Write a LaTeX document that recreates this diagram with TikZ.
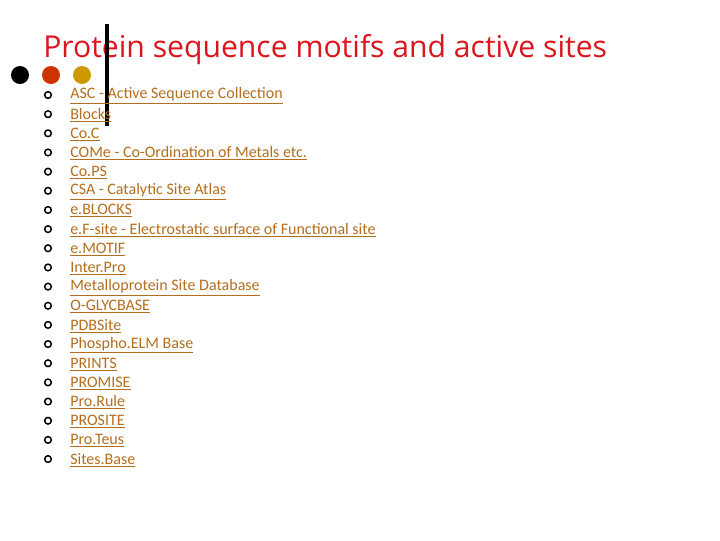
\documentclass[tikz,border=0pt]{standalone}
\usepackage{fontspec}
\setmainfont{Carlito}
\newfontfamily\titlefont{Open Sans}
\definecolor{titlered}{RGB}{220,20,30}
\definecolor{dotred}{RGB}{204,51,0}
\definecolor{dotgold}{RGB}{204,153,0}
\definecolor{linkbrown}{RGB}{180,110,30}
\tikzset{
  bulletdot/.style={circle, draw=black, line width=1.1pt, inner sep=0pt, minimum size=5pt},
  linkitem/.style={anchor=west, inner sep=0pt, text=linkbrown, font=\fontsize{12}{14}\selectfont}
}
\begin{document}
\begin{tikzpicture}[x=0.75pt, y=-0.75pt]
    \useasboundingbox (0,0) rectangle (720,540);
    % title and decoration
    \node[anchor=base west, inner sep=0pt, text=titlered, font=\titlefont\fontsize{22.6}{26}\selectfont] (title) at (43,57) {Protein sequence motifs and active sites};
    \fill[black] (20,75) circle (9);
    \fill[dotred] (51,75) circle (9);
    \fill[dotgold] (82,75) circle (9);
    \draw[line width=3pt] (107,24) -- (107,126);

    % list of databases
    \foreach \name [count=\i from 0] in {ASC - Active Sequence Collection, Blocks, Co.C,
        COMe - Co-Ordination of Metals etc., Co.PS, CSA - Catalytic Site Atlas, e.BLOCKS,
        e.F-site - Electrostatic surface of Functional site, e.MOTIF, Inter.Pro,
        Metalloprotein Site Database, O-GLYCBASE, PDBSite, Phospho.ELM Base, PRINTS,
        PROMISE, Pro.Rule, PROSITE, Pro.Teus, Sites.Base}
    {
        \node[bulletdot] (b\i) at (48,95+19.16*\i) {};
        \node[linkitem] (item\i) at (70,96+19.16*\i) {\underline{\name}};
    }
\end{tikzpicture}
\end{document}
